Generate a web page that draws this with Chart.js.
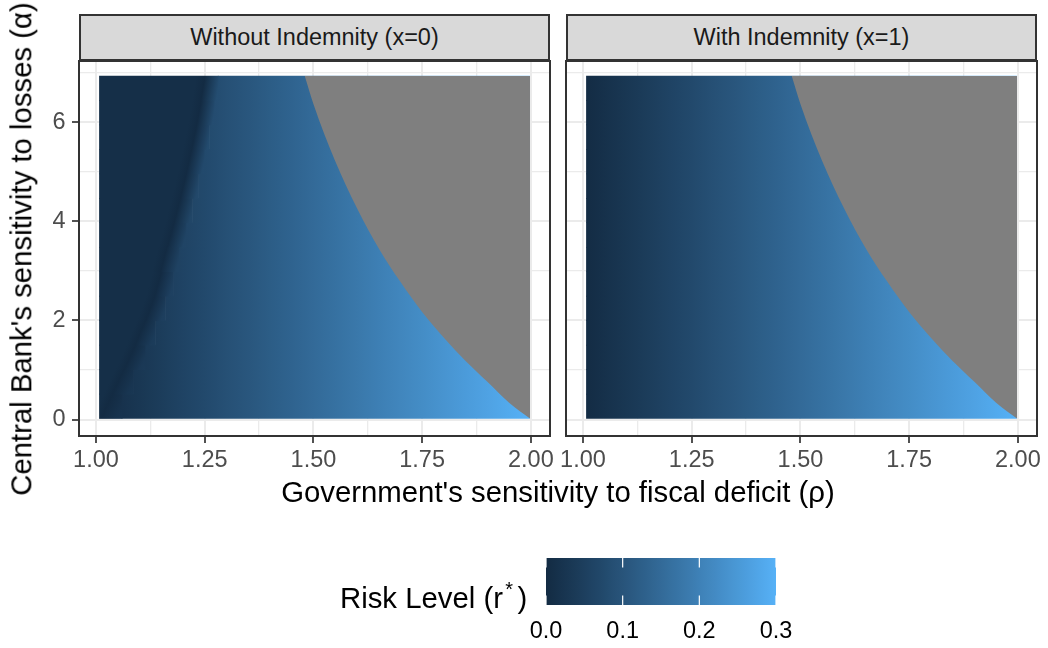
<!DOCTYPE html>
<html>
<head>
<meta charset="utf-8">
<script src="https://cdn.jsdelivr.net/npm/chart.js@4.4.0/dist/chart.umd.min.js"></script>
<style>
  html, body { margin: 0; padding: 0; background: #ffffff; }
  #stage { position: relative; width: 1048px; height: 648px; overflow: hidden;
           font-family: 'Liberation Sans', Arial, sans-serif; }
  canvas { position: absolute; }
  .strip { position: absolute; box-sizing: border-box; background: #D9D9D9; border: 2px solid #333333;
           color: #1A1A1A; font-size: 23.47px; text-align: center; line-height: 43px; white-space: nowrap; }
  .title { position: absolute; color: #000000; font-size: 29.33px; line-height: 1; white-space: nowrap; }
</style>
</head>
<body>
<div id="stage">
  <canvas id="panelLeft" width="590" height="470" style="left:0px;top:20px"></canvas>
  <canvas id="panelRight" width="512" height="470" style="left:536px;top:20px"></canvas>
  <canvas id="colourbar" width="310" height="108" style="left:506px;top:540px"></canvas>

  <div class="strip" style="left:79px;top:14px;width:471px;height:47px">Without Indemnity (x=0)</div>
  <div class="strip" style="left:566px;top:14px;width:471px;height:47px">With Indemnity (x=1)</div>

  <div class="title" style="left:21.4px;top:248.5px;transform:translate(-50%,-50%) rotate(-90deg)">Central Bank's sensitivity to losses (α)</div>
  <div class="title" style="left:258px;top:477px;width:600px;text-align:center">Government's sensitivity to fiscal deficit (ρ)</div>
  <div class="title" style="left:340px;top:583px">Risk Level (r<span style="font-size:0.68em;position:relative;top:-0.62em;padding:0 0.22em 0 0.12em">*</span>)</div>
</div>

<script>
// ---- grid of the heat map -------------------------------------------------
// rho positions where r* is recorded along each row
const rhoKnots = [1.00, 1.05, 1.10, 1.15, 1.20, 1.25, 1.30, 1.35, 1.40, 1.45, 1.50,
                  1.55, 1.60, 1.65, 1.70, 1.75, 1.80, 1.85, 1.90, 1.95, 2.00];
// centre of each alpha row of tiles
const alphaRows = [0.267, 0.761, 1.255, 1.749, 2.243, 2.737, 3.231,
                   3.725, 4.219, 4.713, 5.207, 5.701, 6.195, 6.688];
// rho extent covered by the tiles
const tileRho = [1.008, 1.997];
// upper edge of the tiles (alpha)
const alphaTop = 6.935;

// ---- risk level r* ----------------------------------------------------------
// with indemnity (x = 1): r* only moves with rho
const riskWithIndemnity = [0.000, 0.015, 0.030, 0.045, 0.060, 0.075, 0.090, 0.105, 0.120, 0.135, 0.150,
                           0.165, 0.180, 0.195, 0.210, 0.225, 0.240, 0.255, 0.270, 0.285, 0.300];
// without indemnity (x = 0): one row per entry of alphaRows
const riskWithoutIndemnity = [
  [0.010, 0.013, 0.030, 0.045, 0.060, 0.075, 0.090, 0.105, 0.120, 0.135, 0.150, 0.165, 0.180, 0.195, 0.210, 0.225, 0.240, 0.255, 0.270, 0.285, 0.300],
  [0.010, 0.010, 0.030, 0.045, 0.060, 0.075, 0.090, 0.105, 0.120, 0.135, 0.150, 0.165, 0.180, 0.195, 0.210, 0.225, 0.240, 0.255, 0.270, 0.285, 0.300],
  [0.010, 0.010, 0.021, 0.045, 0.060, 0.075, 0.090, 0.105, 0.120, 0.135, 0.150, 0.165, 0.180, 0.195, 0.210, 0.225, 0.240, 0.255, 0.270, 0.285, 0.300],
  [0.010, 0.010, 0.010, 0.045, 0.060, 0.075, 0.090, 0.105, 0.120, 0.135, 0.150, 0.165, 0.180, 0.195, 0.210, 0.225, 0.240, 0.255, 0.270, 0.285, 0.300],
  [0.010, 0.010, 0.010, 0.034, 0.060, 0.075, 0.090, 0.105, 0.120, 0.135, 0.150, 0.165, 0.180, 0.195, 0.210, 0.225, 0.240, 0.255, 0.270, 0.285, 0.300],
  [0.010, 0.010, 0.010, 0.011, 0.060, 0.075, 0.090, 0.105, 0.120, 0.135, 0.150, 0.165, 0.180, 0.195, 0.210, 0.225, 0.240, 0.255, 0.270, 0.285, 0.300],
  [0.010, 0.010, 0.010, 0.010, 0.060, 0.075, 0.090, 0.105, 0.120, 0.135, 0.150, 0.165, 0.180, 0.195, 0.210, 0.225, 0.240, 0.255, 0.270, 0.285, 0.300],
  [0.010, 0.010, 0.010, 0.010, 0.050, 0.075, 0.090, 0.105, 0.120, 0.135, 0.150, 0.165, 0.180, 0.195, 0.210, 0.225, 0.240, 0.255, 0.270, 0.285, 0.300],
  [0.010, 0.010, 0.010, 0.010, 0.025, 0.075, 0.090, 0.105, 0.120, 0.135, 0.150, 0.165, 0.180, 0.195, 0.210, 0.225, 0.240, 0.255, 0.270, 0.285, 0.300],
  [0.010, 0.010, 0.010, 0.010, 0.010, 0.075, 0.090, 0.105, 0.120, 0.135, 0.150, 0.165, 0.180, 0.195, 0.210, 0.225, 0.240, 0.255, 0.270, 0.285, 0.300],
  [0.010, 0.010, 0.010, 0.010, 0.010, 0.075, 0.090, 0.105, 0.120, 0.135, 0.150, 0.165, 0.180, 0.195, 0.210, 0.225, 0.240, 0.255, 0.270, 0.285, 0.300],
  [0.010, 0.010, 0.010, 0.010, 0.010, 0.053, 0.090, 0.105, 0.120, 0.135, 0.150, 0.165, 0.180, 0.195, 0.210, 0.225, 0.240, 0.255, 0.270, 0.285, 0.300],
  [0.010, 0.010, 0.010, 0.010, 0.010, 0.030, 0.090, 0.105, 0.120, 0.135, 0.150, 0.165, 0.180, 0.195, 0.210, 0.225, 0.240, 0.255, 0.270, 0.285, 0.300],
  [0.010, 0.010, 0.010, 0.010, 0.010, 0.010, 0.090, 0.105, 0.120, 0.135, 0.150, 0.165, 0.180, 0.195, 0.210, 0.225, 0.240, 0.255, 0.270, 0.285, 0.300]
];
// without indemnity: rho where r* touches zero in each row ...
const zeroRiskRho = [1.025, 1.051, 1.078, 1.102, 1.125, 1.143, 1.156,
                     1.172, 1.187, 1.201, 1.214, 1.226, 1.237, 1.246];
// ... and the rho / r* where the steep climb after it levels off
const climbEndRho  = [1.060, 1.086, 1.113, 1.137, 1.160, 1.178, 1.191,
                      1.207, 1.222, 1.236, 1.249, 1.261, 1.272, 1.281];
const climbEndRisk = [0.018, 0.026, 0.034, 0.041, 0.048, 0.053, 0.057,
                      0.062, 0.067, 0.071, 0.075, 0.078, 0.082, 0.084];

// ---- region with no equilibrium (r* undefined) -----------------------------
const boundaryRho   = [1.480, 1.500, 1.550, 1.600, 1.650, 1.700, 1.750, 1.800, 1.850, 1.900, 1.950, 1.998];
const boundaryAlpha = [6.935, 6.370, 5.220, 4.270, 3.460, 2.780, 2.170, 1.650, 1.180, 0.760, 0.340, 0.020];

// ---- axes -----------------------------------------------------------------
const xRange = [0.961, 2.044];
const yRange = [-0.333, 7.238];
const xMajorTicks = [1.00, 1.25, 1.50, 1.75, 2.00];
const xMinorTicks = [1.125, 1.375, 1.625, 1.875];
const yMajorTicks = [0, 2, 4, 6];
const yMinorTicks = [1, 3, 5, 7];
const riskLimits = [0, 0.3];
const legendTicks = [0.0, 0.1, 0.2, 0.3];

const FONT = "'Liberation Sans', Arial, sans-serif";
Chart.defaults.font.family = FONT;

// width (in rho) of the dark flank on the low side of the zero-risk ridge
const RIDGE_FLANK = 0.02;

// ---- colour scale: low/high blended in CIE Lab -----------------------------
const LOW = '#132B43', HIGH = '#56B1F7', NA_GREY = '#7F7F7F';
function hexRgb(h) { return [1, 3, 5].map(i => parseInt(h.slice(i, i + 2), 16)); }
function rgbToLab(rgb) {
  const lin = c => { c /= 255; return c <= 0.04045 ? c / 12.92 : Math.pow((c + 0.055) / 1.055, 2.4); };
  const [R, G, B] = rgb.map(lin);
  const X = (0.4124564 * R + 0.3575761 * G + 0.1804375 * B) / 0.95047;
  const Y = (0.2126729 * R + 0.7151522 * G + 0.0721750 * B);
  const Z = (0.0193339 * R + 0.1191920 * G + 0.9503041 * B) / 1.08883;
  const f = t => t > 216 / 24389 ? Math.cbrt(t) : (24389 / 27 * t + 16) / 116;
  const fx = f(X), fy = f(Y), fz = f(Z);
  return [116 * fy - 16, 500 * (fx - fy), 200 * (fy - fz)];
}
function labToRgb([L, a, b]) {
  const fy = (L + 16) / 116, fx = fy + a / 500, fz = fy - b / 200;
  const inv = t => { const t3 = t * t * t; return t3 > 216 / 24389 ? t3 : (116 * t - 16) / (24389 / 27); };
  const X = inv(fx) * 0.95047, Y = inv(fy), Z = inv(fz) * 1.08883;
  const R = 3.2404542 * X - 1.5371385 * Y - 0.4985314 * Z;
  const G = -0.9692660 * X + 1.8760108 * Y + 0.0415560 * Z;
  const B = 0.0556434 * X - 0.2040259 * Y + 1.0572252 * Z;
  const enc = c => { c = c <= 0.0031308 ? 12.92 * c : 1.055 * Math.pow(c, 1 / 2.4) - 0.055;
                     return Math.round(Math.min(1, Math.max(0, c)) * 255); };
  return [enc(R), enc(G), enc(B)];
}
const LAB_LOW = rgbToLab(hexRgb(LOW)), LAB_HIGH = rgbToLab(hexRgb(HIGH));
function riskColour(r) {
  const t = Math.min(1, Math.max(0, (r - riskLimits[0]) / (riskLimits[1] - riskLimits[0])));
  const lab = LAB_LOW.map((v, i) => v + (LAB_HIGH[i] - v) * t);
  const [R, G, B] = labToRgb(lab);
  return `rgb(${R},${G},${B})`;
}

// ---- fill of one row of tiles: gradient along rho, optionally leaning with the ridge
function rowFill(chart, yId, k, values, ridge, lean) {
  const x = chart.scales.x, y = chart.scales[yId];
  if (!chart.chartArea || !x || !y) return LOW;
  const r0 = rhoKnots[0], r1 = rhoKnots[rhoKnots.length - 1];
  const xa = x.getPixelForValue(r0), xb = x.getPixelForValue(r1);
  const yc = y.getPixelForValue(alphaRows[k]);
  if (!isFinite(xa) || !isFinite(xb) || !isFinite(yc) || xb <= xa) return LOW;
  let slope = 0;
  if (ridge && lean) {
    const lo = Math.max(0, k - 1), hi = Math.min(alphaRows.length - 1, k + 1);
    slope = (zeroRiskRho[hi] - zeroRiskRho[lo]) / (alphaRows[hi] - alphaRows[lo]);
  }
  const pxRho = (xb - xa) / (r1 - r0);
  const pxAlpha = y.getPixelForValue(0) - y.getPixelForValue(1);
  const mv = slope * pxRho / pxAlpha;
  const s = (xb - xa) / (1 + mv * mv);
  const g = chart.ctx.createLinearGradient(xa, yc, xa + s, yc + s * mv);
  let stops = rhoKnots.map((rho, i) => [rho, values[i]]);
  if (ridge) {
    const z = zeroRiskRho[k];
    stops = stops.filter(([rho]) => !(rho > z - RIDGE_FLANK && rho < z));
    const floor = stops.filter(([rho]) => rho <= z - RIDGE_FLANK).pop();
    if (floor) stops.push([z - RIDGE_FLANK, floor[1]]);
    stops.push([z, 0]);
    stops.push([climbEndRho[k], climbEndRisk[k]]);
  }
  stops.sort((p, q) => p[0] - q[0]);
  stops.forEach(([rho, r]) => g.addColorStop(Math.min(1, Math.max(0, (rho - r0) / (r1 - r0))), riskColour(r)));
  return g;
}

const panelBorder = {
  id: 'panelBorder',
  afterDraw(chart) {
    const {ctx, chartArea: {left, top, right, bottom}} = chart;
    ctx.save();
    ctx.strokeStyle = '#333333';
    ctx.lineWidth = 2;
    ctx.strokeRect(left, top, right - left, bottom - top);
    ctx.restore();
  }
};

// one bar per alpha row; `from` / `to` give each row's rho extent
function tileRows(yId, from, to, rowValues, ridge, lean) {
  return {
    type: 'bar', indexAxis: 'y', yAxisID: yId, order: 1,
    data: alphaRows.map((a, k) => ({y: a, x: [from(k), to(k)]})),
    barThickness: 'flex', barPercentage: 1, categoryPercentage: 1,
    borderWidth: 0, inflateAmount: 0.33,
    backgroundColor: c => rowFill(c.chart, yId, c.dataIndex, rowValues(c.dataIndex), ridge, lean)
  };
}

function makePanel(canvasId, tileSets, showYLabels, padding) {
  const isMajorX = v => xMajorTicks.includes(v);
  const isMajorY = v => yMajorTicks.includes(v);
  return new Chart(document.getElementById(canvasId), {
    type: 'bar',
    data: {
      datasets: [
        {
          type: 'line', indexAxis: 'x', order: 0,
          data: boundaryRho.map((r, i) => ({x: r, y: boundaryAlpha[i]})),
          fill: '+1', backgroundColor: NA_GREY, borderColor: 'rgba(0,0,0,0)', borderWidth: 0,
          pointRadius: 0, cubicInterpolationMode: 'monotone'
        },
        {
          type: 'line', indexAxis: 'x', order: 0,
          data: boundaryRho.map(r => ({x: r, y: alphaTop})),
          fill: false, borderColor: 'rgba(0,0,0,0)', borderWidth: 0, pointRadius: 0
        },
        ...tileSets
      ]
    },
    options: {
      responsive: false, animation: false, events: [],
      layout: {padding},
      plugins: {legend: {display: false}, tooltip: {enabled: false}},
      scales: {
        x: {
          type: 'linear', position: 'bottom', min: xRange[0], max: xRange[1], offset: false,
          afterBuildTicks: s => { s.ticks = [...xMajorTicks, ...xMinorTicks].sort((a, b) => a - b).map(v => ({value: v})); },
          afterFit: s => { s.height = 54; },
          ticks: {
            autoSkip: false, maxRotation: 0, minRotation: 0, padding: 3, color: '#4D4D4D',
            font: {size: 23.47, family: FONT},
            callback: v => isMajorX(v) ? v.toFixed(2) : ''
          },
          grid: {
            offset: false, color: '#EBEBEB',
            lineWidth: c => isMajorX(c.tick.value) ? 2 : 1.3,
            tickColor: c => isMajorX(c.tick.value) ? '#333333' : 'rgba(0,0,0,0)',
            tickLength: 7, tickWidth: 1.7
          },
          border: {display: false}
        },
        y: {
          type: 'linear', position: 'left', min: yRange[0], max: yRange[1], offset: false,
          afterBuildTicks: s => { s.ticks = [...yMajorTicks, ...yMinorTicks].sort((a, b) => a - b).map(v => ({value: v})); },
          afterFit: s => { s.width = showYLabels ? 79 : 0; },
          ticks: {
            display: showYLabels, padding: 6.5, color: '#4D4D4D',
            font: {size: 23.47, family: FONT},
            callback: v => isMajorY(v) ? String(v) : ''
          },
          grid: {
            offset: false, color: '#EBEBEB',
            lineWidth: c => isMajorY(c.tick.value) ? 2 : 1.3,
            tickColor: c => (showYLabels && isMajorY(c.tick.value)) ? '#333333' : 'rgba(0,0,0,0)',
            tickLength: 7, tickWidth: 1.7
          },
          border: {display: false}
        },
        yTiles: {
          type: 'linear', position: 'left', display: false,
          min: yRange[0], max: yRange[1], offset: false
        }
      }
    },
    plugins: [panelBorder]
  });
}

// without indemnity: ridge part of each row leans with the ridge, the rest runs straight
makePanel('panelLeft', [
  tileRows('y', () => tileRho[0], k => climbEndRho[k], k => riskWithoutIndemnity[k], true, true),
  tileRows('yTiles', k => climbEndRho[k], () => tileRho[1], k => riskWithoutIndemnity[k], true, false)
], true, {left: 0, right: 40, top: 41, bottom: 0});

makePanel('panelRight', [
  tileRows('y', () => tileRho[0], () => tileRho[1], () => riskWithIndemnity, false, false)
], false, {left: 30, right: 11, top: 41, bottom: 0});

// ---- colour bar ---------------------------------------------------------------
const colourbarTicks = {
  id: 'colourbarTicks',
  afterDatasetsDraw(chart) {
    const {ctx, chartArea: {top, bottom}, scales: {x}} = chart;
    const h = (bottom - top) / 5;
    ctx.save();
    ctx.strokeStyle = '#FFFFFF';
    ctx.lineWidth = 1.2;
    legendTicks.forEach(v => {
      const px = x.getPixelForValue(v);
      ctx.beginPath();
      ctx.moveTo(px, top); ctx.lineTo(px, top + h);
      ctx.moveTo(px, bottom - h); ctx.lineTo(px, bottom);
      ctx.stroke();
    });
    ctx.restore();
  }
};

new Chart(document.getElementById('colourbar'), {
  type: 'bar',
  data: {
    labels: [''],
    datasets: [{
      data: [[riskLimits[0], riskLimits[1]]],
      barPercentage: 1, categoryPercentage: 1, borderWidth: 0,
      backgroundColor: c => {
        const chart = c.chart;
        if (!chart.chartArea) return LOW;
        const x = chart.scales.x;
        const g = chart.ctx.createLinearGradient(x.getPixelForValue(riskLimits[0]), 0, x.getPixelForValue(riskLimits[1]), 0);
        for (let i = 0; i <= 30; i++) {
          const t = i / 30;
          g.addColorStop(t, riskColour(riskLimits[0] + t * (riskLimits[1] - riskLimits[0])));
        }
        return g;
      }
    }]
  },
  options: {
    indexAxis: 'y', responsive: false, animation: false, events: [],
    layout: {padding: {left: 40, right: 40, top: 18, bottom: 0}},
    plugins: {legend: {display: false}, tooltip: {enabled: false}},
    scales: {
      x: {
        type: 'linear', min: riskLimits[0], max: riskLimits[1], offset: false,
        afterBuildTicks: s => { s.ticks = legendTicks.map(v => ({value: v})); },
        afterFit: s => { s.height = 43; },
        ticks: {autoSkip: false, maxRotation: 0, padding: 12, color: '#000000',
                font: {size: 23.47, family: FONT}, callback: v => v.toFixed(1)},
        grid: {display: false, drawTicks: false},
        border: {display: false}
      },
      y: {type: 'category', display: false}
    }
  },
  plugins: [colourbarTicks]
});
</script>
</body>
</html>
